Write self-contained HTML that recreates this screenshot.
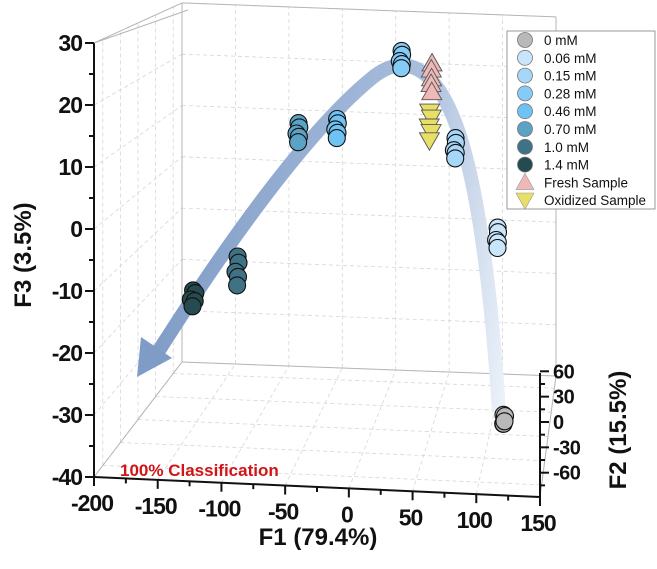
<!DOCTYPE html>
<html><head><meta charset="utf-8"><style>
html,body{margin:0;padding:0;background:#fff;}
svg{display:block;font-family:"Liberation Sans",Arial,sans-serif;}
.tk{font-weight:bold;font-size:23px;fill:#111;letter-spacing:-1px;}
.t2{font-weight:bold;font-size:20px;fill:#111;letter-spacing:-0.5px;}
.ttl{font-weight:bold;font-size:24px;fill:#111;}
.lg{font-size:13.5px;fill:#111;}
</style></head><body>
<svg id="chart" width="657" height="569" viewBox="0 0 657 569">
<defs>
<linearGradient id="ag" gradientUnits="userSpaceOnUse" x1="505" y1="420" x2="140" y2="370">
<stop offset="0" stop-color="#eef3fa"/>
<stop offset="0.35" stop-color="#a9bedd"/>
<stop offset="1" stop-color="#7f9cc6"/>
</linearGradient>
</defs>
<g id="grid"></g>
<g id="frame"></g>
<path d="M499,412 C492,300 478,170 450,110 C428,62 400,55 372,78 C318,122 245,215 158,352" fill="none" stroke="url(#ag)" stroke-width="14"/>
<polygon points="137,377 141,337 172,358" fill="#7f9cc6"/>
<g id="points"></g>
<g id="axes"></g>
<text x="120" y="476" font-weight="bold" font-size="17" fill="#d01515">100% Classification</text>
<text class="ttl" transform="translate(31,255) rotate(-90)" text-anchor="middle">F3 (3.5%)</text>
<text class="ttl" x="318" y="545" text-anchor="middle">F1 (79.4%)</text>
<text class="ttl" transform="translate(626,430) rotate(-90)" text-anchor="middle">F2 (15.5%)</text>
<g>
<rect x="507" y="31" width="148" height="178" fill="#fff" stroke="#999" stroke-width="1"/>
<g id="legend"></g>
</g>
</svg>
<script>
const groupLabels = ["0 mM","0.06 mM","0.15 mM","0.28 mM","0.46 mM","0.70 mM","1.0 mM","1.4 mM","Fresh Sample","Oxidized Sample"];
const f1Values = [
 [112,113,112,112,113],
 [107,107,106,107,107],
 [71,71,70,71,71],
 [25,25,24,25,25],
 [-30,-30,-31,-30,-30],
 [-63,-63,-64,-63,-63],
 [-115,-115,-116,-115,-115],
 [-153,-152,-154,-152,-153],
 [51,50,51,50,51],
 [49,50,49,50,49]];
const f2Values = [
 [0,2,-2,1,-1],[0,2,-2,1,-1],[0,2,-2,1,-1],[0,2,-2,1,-1],[0,2,-2,1,-1],
 [0,2,-2,1,-1],[0,2,-2,1,-1],[0,2,-2,1,-1],[0,2,-2,1,-1],[0,2,-2,1,-1]];
const f3Values = [
 [-36.5,-37,-37.8,-38.2,-37.5],
 [-3.5,-4.5,-5.5,-6.2,-7],
 [12,11,10,9.3,8.5],
 [27,26.2,25.3,24.6,24],
 [14.5,13.6,12.8,12,11.2],
 [13.5,12.6,11.8,11,10.2],
 [-10.5,-11.8,-13,-14.2,-15.5],
 [-16.8,-17.5,-18.2,-18.8,-19.5],
 [25,23.8,22.5,21.3,20],
 [16.5,15.3,14,12.8,11.5]];
const f1Ticks = [-200,-150,-100,-50,0,50,100,150];
const f2Ticks = [60,30,0,-30,-60];
const f3Ticks = [30,20,10,0,-10,-20,-30,-40];

const colors = ["#b9b9b9","#c8e5fb","#a6d6f8","#84cbf6","#6fc3f4","#5aa3c4","#3f7285","#254a50","#f0b9b9","#e8e066"];
const shapes = ["c","c","c","c","c","c","c","c","up","down"];
const NS="http://www.w3.org/2000/svg";
function mk(tag,attrs,parent){const e=document.createElementNS(NS,tag);for(const k in attrs)e.setAttribute(k,attrs[k]);parent.appendChild(e);return e;}

function proj(f1,f2,f3){
 const u=(f1+200)/350, v=(f2+75)/150;
 const fx=94+446*u, fy=477+20*u, bx=182+374*u, by=362+14*u;
 const x=fx+(bx-fx)*v, y0=fy+(by-fy)*v;
 const zs=6.2-1.07*v;
 return [x, y0-(f3+40)*zs];
}
function f2y(f2){return 422-f2*0.845;}

const grid=document.getElementById('grid');
const gs={stroke:"#d6d6d6","stroke-width":0.8,"stroke-dasharray":"4,3",fill:"none"};
function line(p,q,parent,st,name){const l=mk('line',Object.assign({x1:p[0],y1:p[1],x2:q[0],y2:q[1]},st),parent);return l;}
const f2Grid=[-60,-30,0,30,60];
f1Ticks.forEach(t=>{
 line(proj(t,-75,-40),proj(t,75,-40),grid,gs,'floor-grid-f1');
 line(proj(t,75,-40),proj(t,75,30),grid,gs,'back-wall-grid-f1');
});
f2Grid.forEach(t=>{
 line(proj(-200,t,-40),proj(150,t,-40),grid,gs,'floor-grid-f2');
 line(proj(-200,t,-40),proj(-200,t,30),grid,gs,'left-wall-grid-f2');
});
f3Ticks.forEach(t=>{
 line(proj(-200,75,t),proj(150,75,t),grid,gs,'back-wall-grid-f3');
 line(proj(-200,-75,t),proj(-200,75,t),grid,gs,'left-wall-grid-f3');
});
const frame=document.getElementById('frame');
const fs={stroke:"#b5b5b5","stroke-width":1,fill:"none"};
line(proj(-200,75,-40),proj(-200,75,30),frame,fs,'back-left-edge');
line(proj(150,75,-40),proj(150,75,30),frame,fs,'back-right-edge');
line(proj(-200,75,30),proj(150,75,30),frame,fs,'back-top-edge');
line(proj(-200,-75,30),proj(-200,75,30),frame,fs,'left-top-edge');
line(proj(-200,-75,-40),proj(-200,75,-40),frame,fs,'floor-left-edge');
line(proj(-200,75,-40),proj(150,75,-40),frame,fs,'floor-back-edge');
line([540,497],proj(150,75,-40),frame,fs,'floor-right-edge');

const pts=document.getElementById('points');
groupLabels.forEach((g,i)=>{
 f1Values[i].forEach((v,j)=>{
  const p=proj(v,f2Values[i][j],f3Values[i][j]);
  let el;
  if(shapes[i]==="c"){
   el=mk('circle',{cx:p[0].toFixed(1),cy:p[1].toFixed(1),r:8.5,fill:colors[i],stroke:"#111","stroke-width":1.1},pts);
  } else {
   const s=10, d=shapes[i]==="up"?1:-1;
   el=mk('polygon',{points:`${p[0]},${p[1]-d*s} ${p[0]-s},${p[1]+d*s*0.75} ${p[0]+s},${p[1]+d*s*0.75}`,fill:colors[i],stroke:"#555","stroke-width":0.9},pts);
  }
  
  
 });
});

const ax=document.getElementById('axes');
const as={stroke:"#111","stroke-width":2};
const zTop=proj(-200,-75,30), zBot=proj(-200,-75,-40);
line(zTop,zBot,ax,as,'z-axis-line');
line(zTop,[zTop[0]+94,zTop[1]-33],ax,{stroke:"#b5b5b5","stroke-width":1},'z-axis-top-edge');
f3Ticks.forEach(t=>{
 const p=proj(-200,-75,t);
 line([p[0]-9,p[1]],p,ax,as,'z-tick');
 if(t>-40){const m=proj(-200,-75,t-5);line([m[0]-5,m[1]],m,ax,as,'z-minor-tick');}
 const tx=mk('text',{x:p[0]-12,y:p[1]+8,"text-anchor":"end",class:"tk"},ax);tx.textContent=t;
 
 
});
const xA=proj(-200,-75,-40), xB=proj(150,-75,-40);
line(xA,xB,ax,as,'x-axis-line');
f1Ticks.forEach(t=>{
 const p=proj(t,-75,-40);
 line(p,[p[0],p[1]+9],ax,as,'x-tick');
 if(t<150){const m=proj(t+25,-75,-40);line(m,[m[0],m[1]+5],ax,as,'x-minor-tick');}
 const tx=mk('text',{x:p[0]-2,y:p[1]+34,"text-anchor":"middle",class:"tk"},ax);tx.textContent=t;
 
 
});
line([540,497],[540,373],ax,as,'y-axis-line');
f2Ticks.forEach(t=>{
 const y=f2y(t);
 line([540,y],[549,y],ax,as,'y-tick');
 const m=f2y(t-15);line([540,m],[545,m],ax,as,'y-minor-tick');
 const tx=mk('text',{x:553,y:y+7,class:"t2"},ax);tx.textContent=t;
 
 
});

const lg=document.getElementById('legend');
groupLabels.forEach((g,i)=>{
 const y=40+i*17.8, x=525;
 let m;
 if(shapes[i]==="c") m=mk('circle',{cx:x,cy:y,r:7.5,fill:colors[i],stroke:"#777","stroke-width":0.8},lg);
 else {const d=shapes[i]==="up"?1:-1,s=9;m=mk('polygon',{points:`${x},${y-d*s} ${x-s},${y+d*s*0.8} ${x+s},${y+d*s*0.8}`,fill:colors[i],stroke:"#999","stroke-width":0.6},lg);}
 
 
 const t=mk('text',{x:544,y:y+5,class:"lg"},lg);t.textContent=g;
 
 
});
</script>
</body></html>
